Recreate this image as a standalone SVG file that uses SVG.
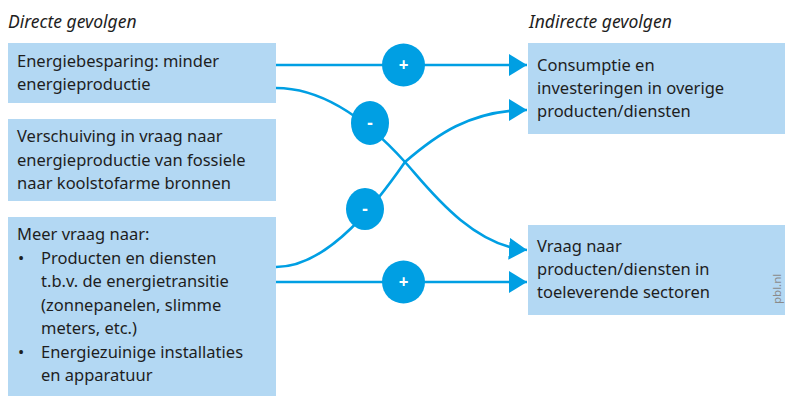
<svg xmlns="http://www.w3.org/2000/svg" width="785" height="398" viewBox="0 0 785 398">
<defs>
<style>
.box{fill:#b3d8f3}
.t{font-family:"Noto Sans","Open Sans",sans-serif;font-size:16.5px;fill:#1e1e1e}
.h{font-family:"Noto Sans","Open Sans",sans-serif;font-size:17.5px;font-style:italic;fill:#1e1e1e}
.ln{fill:none;stroke:#009fe3;stroke-width:2.6}
.c{fill:#009fe3}
.s{font-family:"Noto Sans","DejaVu Sans",sans-serif;font-size:17px;font-weight:bold;fill:#ffffff;text-anchor:middle}
</style>
<marker id="ah" markerUnits="userSpaceOnUse" viewBox="0 0 18 22" markerWidth="18" markerHeight="22" refX="18" refY="11" orient="auto">
<path d="M0,0 L18,11 L0,22 z" fill="#009fe3"/>
</marker>
</defs>
<rect width="785" height="398" fill="#ffffff"/>
<text class="h" x="8" y="28">Directe gevolgen</text>
<text class="h" x="529" y="28">Indirecte gevolgen</text>
<g id="connectors">
<path class="ln" d="M276,65 L527,65" marker-end="url(#ah)"/>
<path class="ln" d="M276,282 L527,282" marker-end="url(#ah)"/>
<path class="ln" d="M276,88 C330,88 377,131 405,162 C425,184 470,246 527,250" marker-end="url(#ah)"/>
<path class="ln" d="M276,267 C330,267 380,198 405,162 C435,136 470,110 527,110" marker-end="url(#ah)"/>
</g>
<g id="sign-plus-top"><circle class="c" cx="403.5" cy="65" r="21.5"/><text class="s" x="403.5" y="71">+</text></g>
<g id="sign-plus-bottom"><circle class="c" cx="403.5" cy="282" r="21.5"/><text class="s" x="403.5" y="288">+</text></g>
<g id="sign-minus-1"><ellipse class="c" cx="370" cy="123" rx="19" ry="22"/><text class="s" x="370" y="129">-</text></g>
<g id="sign-minus-2"><ellipse class="c" cx="365" cy="209" rx="19" ry="21"/><text class="s" x="365" y="215">-</text></g>
<g id="node-energiebesparing">
<rect class="box" x="8" y="43" width="268" height="60"/>
<text class="t" x="17" y="67">Energiebesparing: minder</text>
<text class="t" x="17" y="90">energieproductie</text>
</g>
<g id="node-verschuiving">
<rect class="box" x="8" y="119" width="268" height="82"/>
<text class="t" x="17" y="142">Verschuiving in vraag naar</text>
<text class="t" x="17" y="166">energieproductie van fossiele</text>
<text class="t" x="17" y="189">naar koolstofarme bronnen</text>
</g>
<g id="node-meer-vraag">
<rect class="box" x="8" y="217" width="268" height="179"/>
<text class="t" x="17" y="240">Meer vraag naar:</text>
<text class="t" x="18" y="264">•</text>
<text class="t" x="41" y="264">Producten en diensten</text>
<text class="t" x="41" y="287">t.b.v. de energietransitie</text>
<text class="t" x="41" y="310.5">(zonnepanelen, slimme</text>
<text class="t" x="41" y="334">meters, etc.)</text>
<text class="t" x="18" y="357.5">•</text>
<text class="t" x="41" y="357.5">Energiezuinige installaties</text>
<text class="t" x="41" y="381">en apparatuur</text>
</g>
<g id="node-consumptie">
<rect class="box" x="528" y="43" width="257" height="91"/>
<text class="t" x="537" y="71">Consumptie en</text>
<text class="t" x="537" y="94">investeringen in overige</text>
<text class="t" x="537" y="117">producten/diensten</text>
</g>
<g id="node-vraag">
<rect class="box" x="528" y="225" width="257" height="90"/>
<text class="t" x="537" y="252">Vraag naar</text>
<text class="t" x="537" y="275">producten/diensten in</text>
<text class="t" x="537" y="298">toeleverende sectoren</text>
</g>
<text x="0" y="0" transform="translate(781,304) rotate(-90)" font-family="Noto Sans, sans-serif" font-size="11.5" fill="#8a8a8a">pbl.nl</text>
</svg>
